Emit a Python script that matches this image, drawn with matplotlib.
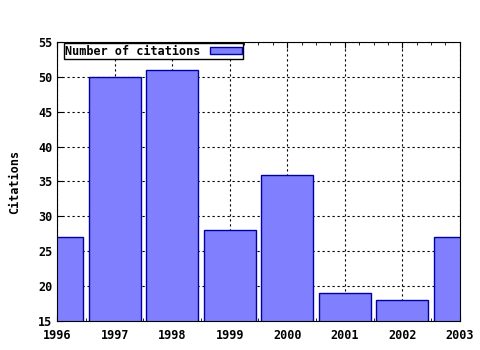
import matplotlib
matplotlib.use("Agg")
import matplotlib.pyplot as plt
from matplotlib.ticker import MultipleLocator

years = [1996, 1997, 1998, 1999, 2000, 2001, 2002, 2003]
citations = [27, 50, 51, 28, 36, 19, 18, 27]

plt.rcParams["font.family"] = "DejaVu Sans Mono"
plt.rcParams["font.weight"] = "bold"
plt.rcParams["axes.labelweight"] = "bold"
plt.rcParams["font.size"] = 8.5

fig = plt.figure(figsize=(4.8, 3.5), dpi=100)
ax = fig.add_axes([0.119, 0.083, 0.839, 0.797])

# Bars
ax.bar(years, citations, width=0.9, color="#8080ff", edgecolor="#0000a0",
       linewidth=1, label="Number of citations", zorder=2)

ax.set_xlim(1996, 2003)
ax.set_ylim(15, 55)
ax.set_xticks(years)
ax.set_yticks(range(15, 56, 5))
ax.xaxis.set_minor_locator(MultipleLocator(0.25))

ax.tick_params(which="both", direction="in", top=True, right=False, length=4)
ax.tick_params(which="minor", length=2)
ax.tick_params(axis="x", pad=6)

# Gridlines
ax.grid(True, which="major", linestyle=(0, (2, 2.5)), color="black", linewidth=0.8, zorder=0)
ax.set_axisbelow(True)

ax.set_ylabel("Citations", labelpad=12)

leg = ax.legend(loc="upper left", bbox_to_anchor=(0.017, 0.995), markerfirst=False,
                fancybox=False, framealpha=1, edgecolor="black", borderpad=0.1,
                handlelength=2.7, handleheight=0.45, borderaxespad=0, handletextpad=0.8)
leg.get_frame().set_linewidth(1)

fig.savefig("out.png", dpi=100)
